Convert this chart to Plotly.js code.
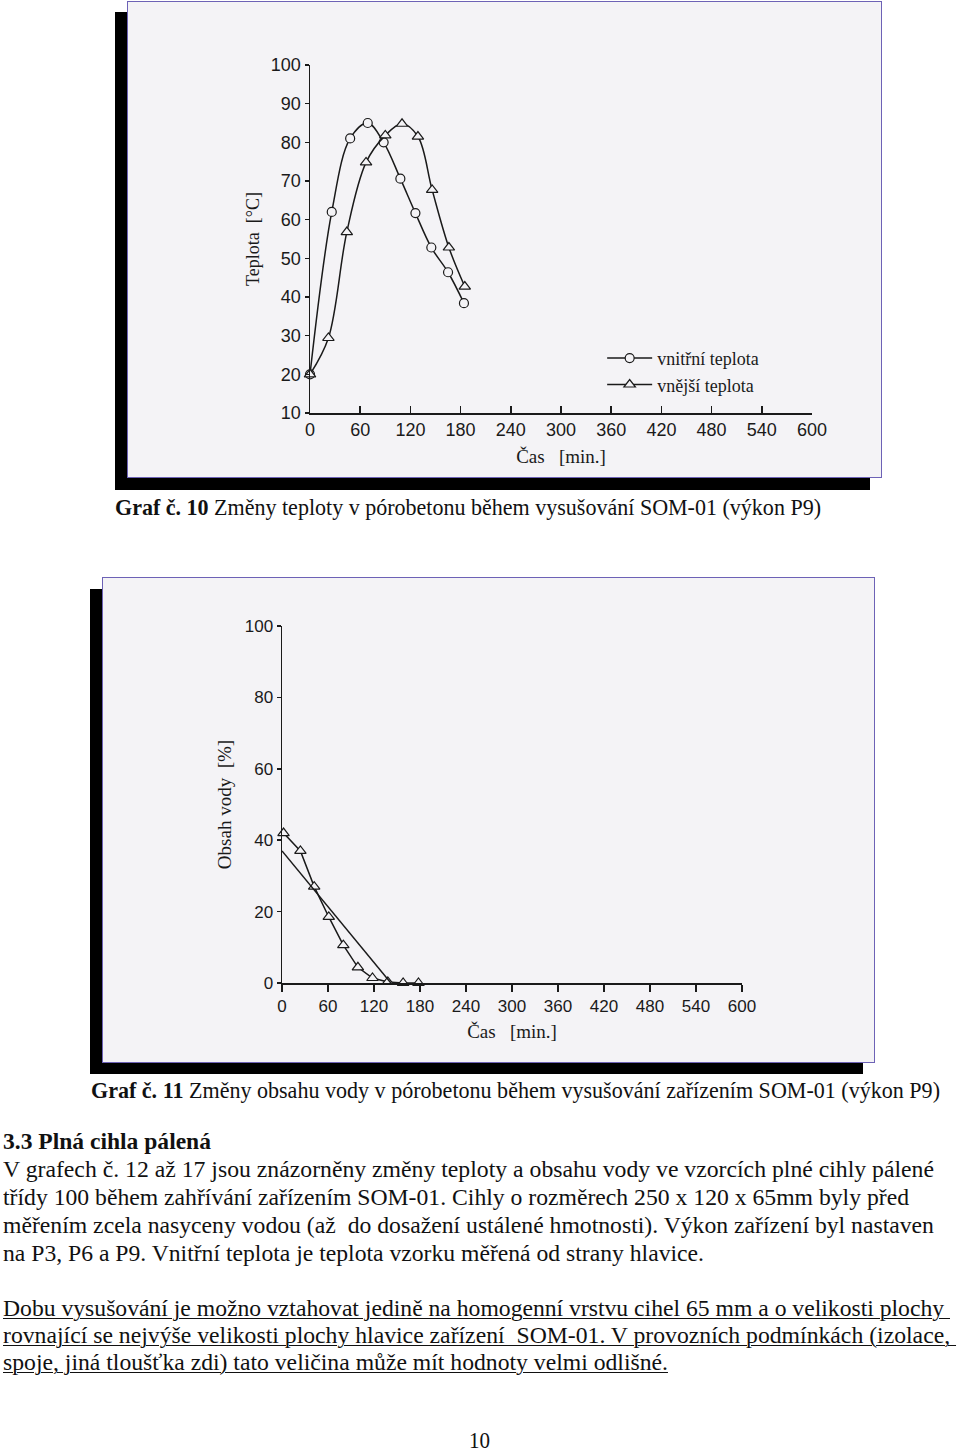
<!DOCTYPE html>
<html><head><meta charset="utf-8">
<script src="https://cdn.plot.ly/plotly-3.0.1.min.js"></script>
<style>
html,body{margin:0;padding:0;background:#fff}
body{width:960px;height:1454px;position:relative;overflow:hidden;font-family:"Liberation Serif","Times New Roman",serif;color:#111}
.shadow{position:absolute;background:#000}
.frame{position:absolute;background:#f4f3f6;border:1.5px solid #6d62b6;box-sizing:border-box}
.plot{position:absolute}
.ln{position:absolute;left:0;top:0;white-space:pre;transform-origin:0 50%;font-size:23px;line-height:24px}
.u{text-decoration:underline;text-decoration-thickness:1px;text-underline-offset:2px}
</style></head><body>
<div class="shadow" style="left:115px;top:12px;width:755px;height:478px"></div>
<div class="frame" style="left:127px;top:1px;width:755px;height:477px"></div>
<div id="c1" class="plot" style="left:127px;top:1px;width:755px;height:477px"></div>

<div class="shadow" style="left:90px;top:589px;width:773px;height:485px"></div>
<div class="frame" style="left:102px;top:577px;width:773px;height:486px"></div>
<div id="c2" class="plot" style="left:102px;top:577px;width:773px;height:486px"></div>

<div id="txt"></div>
<script>
// ---------- Graf 10 : teplota ----------
const innerTime = [0, 26, 48, 69, 88, 108, 126, 145, 165, 184];
const innerTemp = [20, 62, 81, 85, 80, 70.6, 61.7, 52.8, 46.4, 38.4];
const outerTime = [0, 22, 44, 67, 90, 110, 129, 146, 166, 185];
const outerTemp = [20, 29.4, 56.8, 74.8, 81.8, 84.8, 81.5, 67.7, 52.8, 42.7];
const innerName = "vnitřní teplota";
const outerName = "vnější teplota";

// ---------- Graf 11 : obsah vody ----------
const waterOuterTime = [2, 24, 42, 61, 80, 99, 118, 138, 158, 178];
const waterOuter = [42, 37, 27, 18.5, 10.6, 4.4, 1.4, 0.3, 0, 0];
const waterInnerTime = [0, 142];
const waterInner = [37, 0];

const timeTicks = [0, 60, 120, 180, 240, 300, 360, 420, 480, 540, 600];
const tempTicks = [10, 20, 30, 40, 50, 60, 70, 80, 90, 100];
const waterTicks = [0, 20, 40, 60, 80, 100];

const captions = [
  {html: "<b>Graf č. 10</b> Změny teploty v pórobetonu během vysušování SOM-01 (výkon P9)", x0: 115, x1: 821, y: 508},
  {html: "<b>Graf č. 11</b> Změny obsahu vody v pórobetonu během vysušování zařízením SOM-01 (výkon P9)", x0: 91, x1: 940, y: 1091},
  {html: "<b>3.3 Plná cihla pálená</b>", x0: 3, x1: 211, y: 1142},
  {html: "V grafech č. 12 až 17 jsou znázorněny změny teploty a obsahu vody ve vzorcích plné cihly pálené", x0: 3, x1: 934, y: 1170},
  {html: "třídy 100 během zahřívání zařízením SOM-01. Cihly o rozměrech 250 x 120 x 65mm byly před", x0: 3, x1: 909, y: 1198},
  {html: "měřením zcela nasyceny vodou (až  do dosažení ustálené hmotnosti). Výkon zařízení byl nastaven", x0: 3, x1: 934, y: 1226},
  {html: "na P3, P6 a P9. Vnitřní teplota je teplota vzorku měřená od strany hlavice.", x0: 3, x1: 704, y: 1254},
  {html: "<span class='u'>Dobu vysušování je možno vztahovat jedině na homogenní vrstvu cihel 65 mm a o velikosti plochy </span>", x0: 3, x1: 950, y: 1309},
  {html: "<span class='u'>rovnající se nejvýše velikosti plochy hlavice zařízení  SOM-01. V provozních podmínkách (izolace, </span>", x0: 3, x1: 956, y: 1336},
  {html: "<span class='u'>spoje, jiná tloušťka zdi) tato veličina může mít hodnoty velmi odlišné.</span>", x0: 3, x1: 668, y: 1363},
  {html: "10", x0: 469, x1: 490, y: 1441}
];

// page text first (independent of charts)
const holder = document.getElementById("txt");
captions.forEach(c => {
  const d = document.createElement("div");
  d.className = "ln";
  d.innerHTML = c.html;
  holder.appendChild(d);
  const w = d.getBoundingClientRect().width;
  const s = (c.x1 - c.x0) / w;
  d.style.left = c.x0 + "px";
  d.style.top = (c.y - 12) + "px";
  d.style.transform = "scaleX(" + s.toFixed(4) + ")";
});

const sans = "Liberation Sans, Arial, sans-serif";
const serif = "Liberation Serif, Times New Roman, serif";
const ink = "#1a1a1a";
const bg = "#f4f3f6";

function lineTrace(x, y, name, symbol, size, show, shape) {
  const t = {
    x: x, y: y, name: name, type: "scatter",
    mode: symbol ? "lines+markers" : "lines",
    line: {color: ink, width: 1.5, shape: shape, smoothing: 1},
    cliponaxis: false, showlegend: show
  };
  if (symbol) t.marker = {symbol: symbol, size: size, color: bg, line: {color: ink, width: 1.2}};
  return t;
}

const fig1 = {
  data: [
    lineTrace(innerTime, innerTemp, innerName, "circle", 9, true, "spline"),
    lineTrace(outerTime, outerTemp, outerName, "triangle-up", 10, true, "spline")
  ],
  layout: {
    width: 755, height: 477,
    margin: {l: 183, r: 70, t: 64, b: 65},
    paper_bgcolor: "rgba(0,0,0,0)", plot_bgcolor: "rgba(0,0,0,0)",
    font: {family: sans, color: ink, size: 18},
    xaxis: {range: [0, 600], tickvals: timeTicks, ticks: "inside", ticklen: 7, tickwidth: 1.5, tickcolor: ink,
            showline: true, linecolor: ink, linewidth: 1.5, showgrid: false, zeroline: false,
            tickfont: {family: sans, size: 18, color: ink},
            title: {text: "Čas   [min.]", font: {family: serif, size: 19, color: ink}, standoff: 10}},
    yaxis: {range: [10, 100], tickvals: tempTicks, ticks: "outside", ticklen: 4, tickwidth: 1.5, tickcolor: ink,
            showline: true, linecolor: ink, linewidth: 1.5, showgrid: false, zeroline: false,
            tickfont: {family: sans, size: 18, color: ink},
            title: {text: "Teplota  [°C]", font: {family: serif, size: 18, color: ink}, standoff: 6}},
    showlegend: true,
    legend: {x: 0.582, y: 0.21, xanchor: "left", yanchor: "top", bgcolor: "rgba(0,0,0,0)",
             font: {family: serif, size: 18, color: ink}, tracegroupgap: 0, itemwidth: 45}
  }
};

const fig2 = {
  data: [
    lineTrace(waterOuterTime, waterOuter, outerName, "triangle-up", 10, false, "linear"),
    lineTrace(waterInnerTime, waterInner, innerName, null, 0, false, "linear")
  ],
  layout: {
    width: 773, height: 486,
    margin: {l: 180, r: 133, t: 49, b: 80},
    paper_bgcolor: "rgba(0,0,0,0)", plot_bgcolor: "rgba(0,0,0,0)",
    font: {family: sans, color: ink, size: 17},
    showlegend: false,
    xaxis: {range: [0, 600], tickvals: timeTicks, ticks: "outside", ticklen: 7, tickwidth: 1.5, tickcolor: ink,
            showline: true, linecolor: ink, linewidth: 1.5, showgrid: false, zeroline: false,
            tickfont: {family: sans, size: 17, color: ink},
            title: {text: "Čas   [min.]", font: {family: serif, size: 19, color: ink}, standoff: 10}},
    yaxis: {range: [0, 100], tickvals: waterTicks, ticks: "outside", ticklen: 4, tickwidth: 1.5, tickcolor: ink,
            showline: true, linecolor: ink, linewidth: 1.5, showgrid: false, zeroline: false,
            tickfont: {family: sans, size: 17, color: ink},
            title: {text: "Obsah vody  [%]", font: {family: serif, size: 19, color: ink}, standoff: 8}}
  }
};

Plotly.newPlot("c1", fig1.data, fig1.layout, {staticPlot: true, displayModeBar: false});
Plotly.newPlot("c2", fig2.data, fig2.layout, {staticPlot: true, displayModeBar: false});
</script>
</body></html>
